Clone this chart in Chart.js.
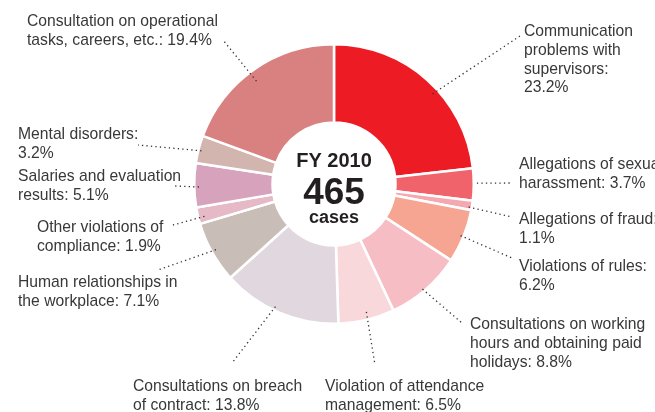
<!DOCTYPE html>
<html lang="en">
<head>
    <meta charset="UTF-8">
    <title>Consultations FY 2010</title>
    <script src="https://cdn.jsdelivr.net/npm/chart.js"></script>
    <style>
        body { margin: 0; background: #fff; }
        canvas { display: block; }
    </style>
</head>
<body>
    <canvas id="pie" width="655" height="412"></canvas>

    <script>
        // shares in %, clockwise from 12 o'clock
        const categories = [
            "Communication problems with supervisors",
            "Allegations of sexual harassment",
            "Allegations of fraud",
            "Violations of rules",
            "Consultations on working hours and obtaining paid holidays",
            "Violation of attendance management",
            "Consultations on breach of contract",
            "Human relationships in the workplace",
            "Other violations of compliance",
            "Salaries and evaluation results",
            "Mental disorders",
            "Consultation on operational tasks, careers, etc."
        ];
        const shares = [23.2, 3.7, 1.1, 6.2, 8.8, 6.5, 13.8, 7.1, 1.9, 5.1, 3.2, 19.4];
        const sliceColors = [
            "#ED1C24", "#F1636A", "#F5A8AF", "#F6A592", "#F7BDC5", "#F9D8DC",
            "#E0D8DE", "#C9BDB7", "#E6B9C6", "#D6A2BC", "#D2B5AF", "#D88180"
        ];
        // label text as it is broken into lines in the picture
        const labelLines = [
            ["Communication", "problems with", "supervisors:", "23.2%"],
            ["Allegations of sexual", "harassment: 3.7%"],
            ["Allegations of fraud:", "1.1%"],
            ["Violations of rules:", "6.2%"],
            ["Consultations on working", "hours and obtaining paid", "holidays: 8.8%"],
            ["Violation of attendance", "management: 6.5%"],
            ["Consultations on breach", "of contract: 13.8%"],
            ["Human relationships in", "the workplace: 7.1%"],
            ["Other violations of", "compliance: 1.9%"],
            ["Salaries and evaluation", "results: 5.1%"],
            ["Mental disorders:", "3.2%"],
            ["Consultation on operational", "tasks, careers, etc.: 19.4%"]
        ];
        const centerTitle = "FY 2010";
        const centerTotal = "465";
        const centerUnit = "cases";

        // label placement: text x, first line y, leader end x/y,
        // leader start as fraction along the slice angle (t) and across the ring (r)
        const labelLayout = [
            { x: 524, y: 32, ex: 520, ey: 36, t: 0.57, r: 0.92 },
            { x: 519, y: 165, ex: 512, ey: 183, t: 0.46, r: 1.04 },
            { x: 519, y: 220, ex: 512, ey: 217, t: 0.72, r: 0.96 },
            { x: 519, y: 267, ex: 512, ey: 258, t: 0.51, r: 0.96 },
            { x: 470, y: 325, ex: 462, ey: 323, t: 0.53, r: 0.97 },
            { x: 325, y: 387, ex: 375, ey: 365, t: 0.47, r: 0.9 },
            { x: 133, y: 387, ex: 232, ey: 363, t: 0.55, r: 0.95 },
            { x: 18, y: 283, ex: 158, ey: 270, t: 0.51, r: 0.94 },
            { x: 37, y: 228, ex: 173, ey: 225, t: 0.37, r: 0.92 },
            { x: 18, y: 177, ex: 175, ey: 186, t: 0.46, r: 0.94 },
            { x: 18, y: 135, ex: 138, ey: 145, t: 0.47, r: 0.96 },
            { x: 27, y: 22, ex: 223, ey: 40, t: 0.47, r: 0.86 }
        ];

        const labelPlugin = {
            id: "labels",
            afterDraw(chart) {
                const ctx = chart.ctx;
                const arcs = chart.getDatasetMeta(0).data;
                ctx.save();

                // dotted leader lines
                ctx.strokeStyle = "#333";
                ctx.lineWidth = 1.3;
                ctx.setLineDash([1.3, 3.2]);
                arcs.forEach((arc, i) => {
                    const p = arc.getProps(["x", "y", "startAngle", "endAngle", "innerRadius", "outerRadius"], true);
                    const L = labelLayout[i];
                    const a = p.startAngle + (p.endAngle - p.startAngle) * L.t;
                    const rr = p.innerRadius + (p.outerRadius - p.innerRadius) * L.r;
                    ctx.beginPath();
                    ctx.moveTo(p.x + Math.cos(a) * rr, p.y + Math.sin(a) * rr);
                    ctx.lineTo(L.ex, L.ey);
                    ctx.stroke();
                });
                ctx.setLineDash([]);

                // slice labels
                ctx.fillStyle = "#383838";
                ctx.font = "15.7px 'Liberation Sans', Arial, sans-serif";
                ctx.textAlign = "left";
                ctx.textBaseline = "middle";
                labelLines.forEach((lines, i) => {
                    const L = labelLayout[i];
                    lines.forEach((s, k) => ctx.fillText(s, L.x, L.y + k * 18.6));
                });

                // centre text
                const c = arcs[0];
                ctx.fillStyle = "#231f20";
                ctx.textAlign = "center";
                ctx.textBaseline = "middle";
                ctx.font = "bold 20px 'Liberation Sans', Arial, sans-serif";
                ctx.fillText(centerTitle, c.x, c.y - 23);
                ctx.font = "bold 37px 'Liberation Sans', Arial, sans-serif";
                ctx.fillText(centerTotal, c.x, c.y + 10);
                ctx.font = "bold 18px 'Liberation Sans', Arial, sans-serif";
                ctx.fillText(centerUnit, c.x, c.y + 34);
                ctx.restore();
            }
        };

        function drawChart() {
            const ctx = document.getElementById("pie").getContext("2d");
            new Chart(ctx, {
                type: "doughnut",
                data: {
                    labels: categories,
                    datasets: [{
                        data: shares,
                        backgroundColor: sliceColors,
                        borderColor: "#ffffff",
                        borderWidth: 2.5
                    }]
                },
                options: {
                    responsive: false,
                    animation: false,
                    cutout: "44%",
                    layout: { padding: { left: 193, right: 180, top: 43, bottom: 87 } },
                    plugins: {
                        legend: { display: false },
                        tooltip: { enabled: false }
                    }
                },
                plugins: [labelPlugin]
            });
        }
        window.onload = drawChart;
    </script>
</body>
</html>
